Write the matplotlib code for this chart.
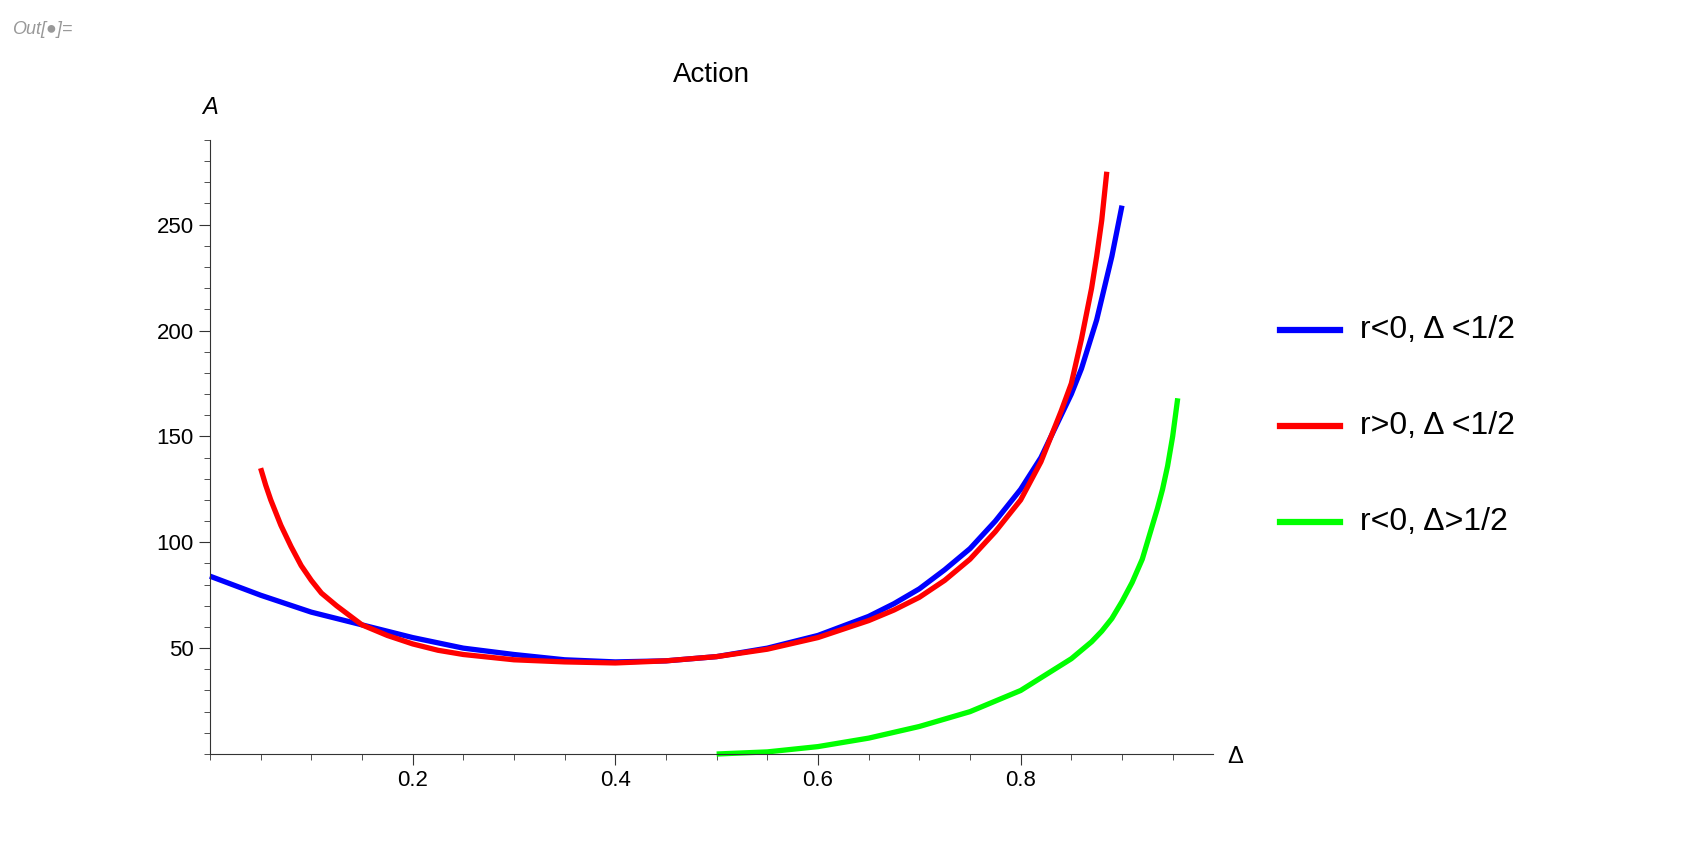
import matplotlib
matplotlib.use("Agg")
import matplotlib.pyplot as plt
from matplotlib.ticker import MultipleLocator
from matplotlib.lines import Line2D

plt.rcParams['font.family'] = ['Liberation Sans', 'DejaVu Sans']

blue_x = [0, 0.05, 0.1, 0.15, 0.2, 0.25, 0.3, 0.35, 0.4, 0.45, 0.5, 0.55, 0.6, 0.65, 0.675, 0.7, 0.725, 0.75, 0.775, 0.8, 0.82, 0.84, 0.85, 0.86, 0.875, 0.88, 0.89, 0.9]
blue_y = [84, 75, 67, 61, 55, 50, 47, 44.5, 43.5, 44, 46, 50, 56, 65, 71, 78, 87, 97, 110, 125, 140, 160, 170, 182, 205, 215, 235, 259]
red_x = [0.05, 0.055, 0.06, 0.07, 0.08, 0.09, 0.1, 0.11, 0.125, 0.15, 0.175, 0.2, 0.225, 0.25, 0.3, 0.35, 0.4, 0.45, 0.5, 0.55, 0.6, 0.65, 0.675, 0.7, 0.725, 0.75, 0.775, 0.8, 0.82, 0.83, 0.84, 0.85, 0.86, 0.87, 0.875, 0.88, 0.885]
red_y = [135, 127, 120, 108, 98, 89, 82, 76, 70, 61, 56, 52, 49, 47, 44.5, 43.5, 43, 44, 46, 49.5, 55, 63, 68, 74, 82, 92, 105, 120, 138, 150, 162, 175, 196, 220, 235, 252, 275]
green_x = [0.5, 0.55, 0.6, 0.65, 0.7, 0.75, 0.8, 0.85, 0.86, 0.87, 0.88, 0.89, 0.9, 0.91, 0.92, 0.925, 0.93, 0.935, 0.94, 0.945, 0.95, 0.955]
green_y = [0, 1, 3.5, 7.5, 13, 20, 30, 45, 49, 53, 58, 64, 72, 81, 92, 100, 108, 116, 125, 136, 150, 168]
labels = ["r<0, Δ <1/2", "r>0, Δ <1/2", "r<0, Δ>1/2"]
colors = ["#0000ff", "#ff0000", "#00ff00"]

fig = plt.figure(figsize=(16.85, 8.64), dpi=100)
ax = fig.add_axes([0.1246, 0.1273, 0.5954, 0.7107])
for (x, y), c in zip([(blue_x, blue_y), (red_x, red_y), (green_x, green_y)], colors):
    ax.plot(x, y, color=c, lw=3.8, solid_capstyle="butt", solid_joinstyle="round", clip_on=False)
ax.set_xlim(0, 0.99)
ax.set_ylim(0, 290)
for s in ["top", "right"]:
    ax.spines[s].set_visible(False)
ax.spines["left"].set_color("#333333")
ax.spines["bottom"].set_color("#333333")
ax.set_xticks([0.2, 0.4, 0.6, 0.8])
ax.set_xticklabels(["0.2", "0.4", "0.6", "0.8"])
ax.set_yticks([50, 100, 150, 200, 250])
ax.xaxis.set_minor_locator(MultipleLocator(0.05))
ax.yaxis.set_minor_locator(MultipleLocator(10))
ax.tick_params(which="major", length=8, labelsize=16, color="#333333")
ax.tick_params(which="minor", length=4, color="#333333")
ax.set_title("Action", fontsize=20, pad=42)
fig.text(210/1685, 1-107/864, "A", fontsize=17, style="italic", ha="center", va="center")
fig.text(1235/1685, 1-757/864, "Δ", fontsize=17, ha="center", va="center")
fig.text(12/1685, 1-30/864, "Out[●]=", fontsize=13, style="italic", color="#999999", va="center")

for i, (lab, c) in enumerate(zip(labels, colors)):
    yy = 1 - [330, 426, 522][i]/864
    fig.add_artist(Line2D([1280/1685, 1340/1685], [yy, yy], color=c, lw=4.5))
    fig.text(1360/1685, yy, lab, fontsize=23, va="center")

fig.savefig("out.png", dpi=100)
